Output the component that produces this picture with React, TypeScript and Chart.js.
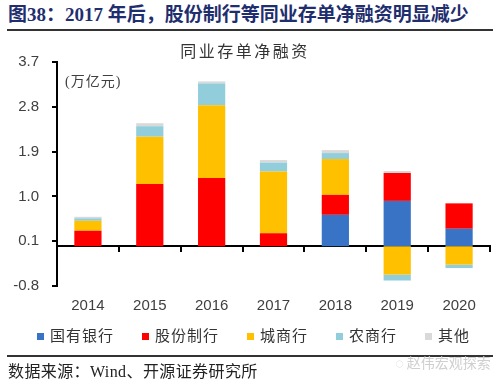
import React, { useEffect, useRef } from "react";
import { Chart, registerables } from "chart.js";

Chart.register(...registerables);

const categories = ["2014", "2015", "2016", "2017", "2018", "2019", "2020"];
const stateBanks = [0, 0, 0, 0, 0.63, 0.91, 0.35];
const jointStockBanks = [0.31, 1.25, 1.37, 0.26, 0.4, 0.56, 0.51];
const cityBanks = [0.2, 0.95, 1.46, 1.24, 0.72, -0.57, -0.37];
const ruralBanks = [0.05, 0.21, 0.44, 0.18, 0.12, -0.12, -0.07];
const others = [0.03, 0.06, 0.04, 0.05, 0.06, 0.04, 0];
const yTicks = [-0.8, 0.1, 1.0, 1.9, 2.8, 3.7];

const seriesNames = ["国有银行", "股份制行", "城商行", "农商行", "其他"];
const seriesColors = ["#3873C6", "#FF0000", "#FFC000", "#92CDDC", "#D9D9D9"];
const seriesValues = [stateBanks, jointStockBanks, cityBanks, ruralBanks, others];

const CJK = '"Liberation Serif", "Noto Sans CJK SC", serif';
const tickFont = { family: '"Liberation Sans", Arial, sans-serif', size: 15 };

export default function App() {
  const canvasRef = useRef<HTMLCanvasElement | null>(null);

  useEffect(() => {
    if (!canvasRef.current) return;
    const chart = new Chart(canvasRef.current, {
      type: "bar",
      data: {
        labels: categories,
        datasets: seriesNames.map((name, i) => ({
          label: name,
          data: seriesValues[i],
          backgroundColor: seriesColors[i],
          borderWidth: 0,
          barPercentage: 0.44,
          categoryPercentage: 1,
        })),
      },
      options: {
        responsive: false,
        animation: false,
        devicePixelRatio: 1,
        layout: { padding: { left: 0, right: 10, top: 62, bottom: 5 } },
        plugins: {
          legend: { display: false },
          title: { display: false },
          tooltip: { enabled: false },
        },
        scales: {
          x: {
            stacked: true,
            offset: true,
            grid: { display: false, drawTicks: false },
            border: { display: false },
            ticks: { color: "#404040", font: tickFont, padding: 11, maxRotation: 0 },
          },
          x0: {
            type: "category",
            position: { y: 0 },
            offset: true,
            grid: {
              offset: true,
              drawOnChartArea: false,
              drawTicks: true,
              tickLength: 5,
              color: "#000",
              lineWidth: 2,
            },
            border: { display: true, color: "#000", width: 2 },
            ticks: { display: false },
          },
          y: {
            stacked: true,
            min: -0.8,
            max: 3.7,
            afterBuildTicks: (s: any) => {
              s.ticks = yTicks.map((v) => ({ value: v }));
            },
            afterFit: (s: any) => {
              s.width = 57;
            },
            grid: {
              drawOnChartArea: false,
              drawTicks: true,
              tickLength: 5,
              color: "#000",
              lineWidth: 2,
            },
            border: { display: true, color: "#000", width: 2 },
            ticks: {
              color: "#404040",
              font: tickFont,
              padding: 13,
              callback: (v: any) => Number(v).toFixed(1),
            },
          },
        },
      } as any,
    });
    return () => chart.destroy();
  }, []);

  return (
    <div
      style={{
        position: "absolute",
        left: 0,
        top: 0,
        width: 500,
        height: 385,
        background: "#fff",
        overflow: "hidden",
        fontFamily: CJK,
      }}
    >
      <div
        style={{
          position: "absolute",
          left: 8,
          top: 4,
          fontSize: 19,
          fontWeight: 700,
          color: "#1F2E6E",
          whiteSpace: "nowrap",
          lineHeight: "22px",
        }}
      >
        图38：2017 年后，股份制行等同业存单净融资明显减少
      </div>
      <div
        style={{
          position: "absolute",
          left: 7,
          top: 29,
          width: 486,
          height: 2,
          background: "#333",
        }}
      />
      <canvas
        ref={canvasRef}
        width={500}
        height={331}
        style={{ position: "absolute", left: 0, top: 0, width: 500, height: 331 }}
      />
      <div
        style={{
          position: "absolute",
          left: 0,
          width: 500,
          top: 42,
          textAlign: "center",
          fontSize: 16,
          letterSpacing: 2.5,
          color: "#333",
          lineHeight: "20px",
        }}
      >
        <span style={{ marginLeft: -10 }}>同业存单净融资</span>
      </div>
      <div
        style={{
          position: "absolute",
          left: 65,
          top: 73,
          fontSize: 14,
          color: "#404040",
          lineHeight: "18px",
          letterSpacing: 1,
        }}
      >
        (万亿元)
      </div>
      <div
        style={{
          position: "absolute",
          left: 37,
          top: 326,
          display: "flex",
          alignItems: "center",
          gap: 28,
          height: 20,
          whiteSpace: "nowrap",
        }}
      >
        {seriesNames.map((n, i) => (
          <div key={n} style={{ display: "flex", alignItems: "center" }}>
            <span
              style={{
                display: "inline-block",
                width: 7,
                height: 7,
                background: seriesColors[i],
                marginRight: 6,
              }}
            />
            <span style={{ fontSize: 15, letterSpacing: 1, color: "#333", lineHeight: "20px" }}>
              {n}
            </span>
          </div>
        ))}
      </div>
      <div
        style={{
          position: "absolute",
          left: 7,
          top: 355,
          width: 486,
          height: 2,
          background: "#333",
        }}
      />
      <div
        style={{
          position: "absolute",
          left: 8,
          top: 362,
          fontSize: 16,
          letterSpacing: 0.4,
          color: "#222",
          lineHeight: "20px",
          whiteSpace: "nowrap",
        }}
      >
        数据来源：Wind、开源证券研究所
      </div>
      <div
        style={{
          position: "absolute",
          left: 395,
          top: 355,
          fontSize: 14,
          color: "#cfcfcf",
          lineHeight: "18px",
          whiteSpace: "nowrap",
        }}
      >
        ◌ 赵伟宏观探索
      </div>
    </div>
  );
}
